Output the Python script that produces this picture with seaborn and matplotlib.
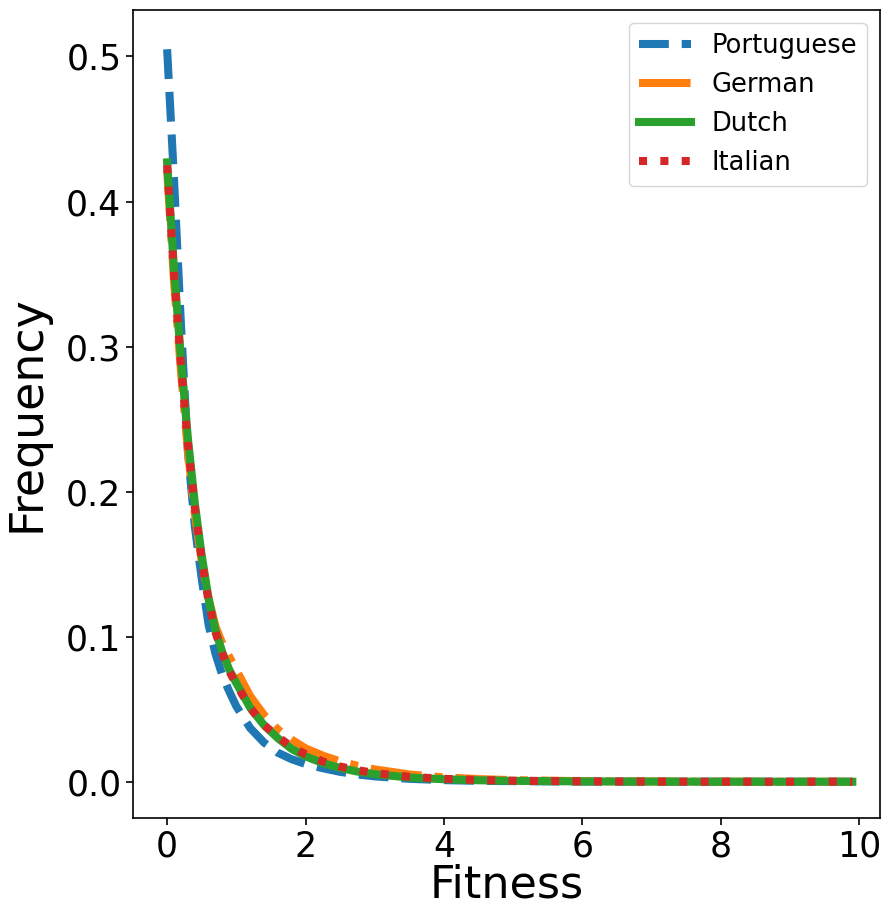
import matplotlib
matplotlib.use("Agg")
import matplotlib.pyplot as plt
import seaborn as sns
import pandas as pd

# Fitness grid shared by every language
fitness = [0.0, 0.1, 0.2, 0.3, 0.4, 0.5, 0.6, 0.7, 0.8, 0.9, 1.0, 1.2, 1.4,
           1.6, 1.8, 2.0, 2.25, 2.5, 2.75, 3.0, 3.5, 4.0, 4.5, 5.0, 6.0, 7.0,
           8.0, 9.0, 9.9]

portuguese = [0.505, 0.415, 0.315, 0.228, 0.176, 0.140, 0.108, 0.088, 0.073,
              0.062, 0.052, 0.037, 0.027, 0.020, 0.0155, 0.0122, 0.0093,
              0.0068, 0.0050, 0.0037, 0.0020, 0.0011, 0.0006, 0.0004, 0.0001,
              0.0, 0.0, 0.0, 0.0]
german = [0.422, 0.345, 0.283, 0.228, 0.185, 0.152, 0.126, 0.107, 0.095,
          0.086, 0.077, 0.059, 0.046, 0.036, 0.029, 0.023, 0.018, 0.014,
          0.011, 0.0085, 0.0050, 0.0030, 0.0018, 0.0011, 0.0004, 0.0002,
          0.0001, 0.0, 0.0]
dutch = [0.427, 0.353, 0.292, 0.237, 0.192, 0.156, 0.126, 0.104, 0.089,
         0.077, 0.068, 0.051, 0.039, 0.030, 0.0226, 0.0175, 0.0128, 0.0095,
         0.0070, 0.0052, 0.0029, 0.0017, 0.0010, 0.0006, 0.0002, 0.0001,
         0.0, 0.0, 0.0]
italian = [0.425, 0.350, 0.288, 0.233, 0.189, 0.153, 0.124, 0.103, 0.088,
           0.076, 0.067, 0.051, 0.039, 0.031, 0.024, 0.019, 0.014, 0.0105,
           0.0080, 0.0060, 0.0034, 0.0020, 0.0012, 0.0007, 0.0003, 0.0001,
           0.0, 0.0, 0.0]

languages = ["Portuguese", "German", "Dutch", "Italian"]
series = [portuguese, german, dutch, italian]
colors = ["#1f77b4", "#ff7f0e", "#2ca02c", "#d62728"]
linestyles = ["--", "-.", "-", ":"]

fig = plt.figure(figsize=(8.88, 9.16), dpi=100)
ax = fig.add_axes([0.150, 0.107, 0.841, 0.882])

for name, values, color, ls in zip(languages, series, colors, linestyles):
    df = pd.DataFrame({"Fitness": fitness, "Frequency": values})
    sns.lineplot(data=df, x="Fitness", y="Frequency", ax=ax, label=name,
                 color=color, linestyle=ls, linewidth=5.8)

ax.set_xlim(-0.49, 10.3)
ax.set_ylim(-0.025, 0.532)
ax.set_xticks([0, 2, 4, 6, 8, 10])
ax.set_yticks([0.0, 0.1, 0.2, 0.3, 0.4, 0.5])
ax.set_yticklabels(["0.0", "0.1", "0.2", "0.3", "0.4", "0.5"])
ax.tick_params(axis="both", labelsize=25, length=5, width=1.2)
ax.set_xlabel("Fitness", fontsize=32, labelpad=0)
ax.set_ylabel("Frequency", fontsize=33, labelpad=12)
for sp in ax.spines.values():
    sp.set_color("black")
    sp.set_linewidth(1.2)

ax.legend(loc="upper right", fontsize=18.5, handlelength=2.0)

fig.savefig("out.png", dpi=100)
